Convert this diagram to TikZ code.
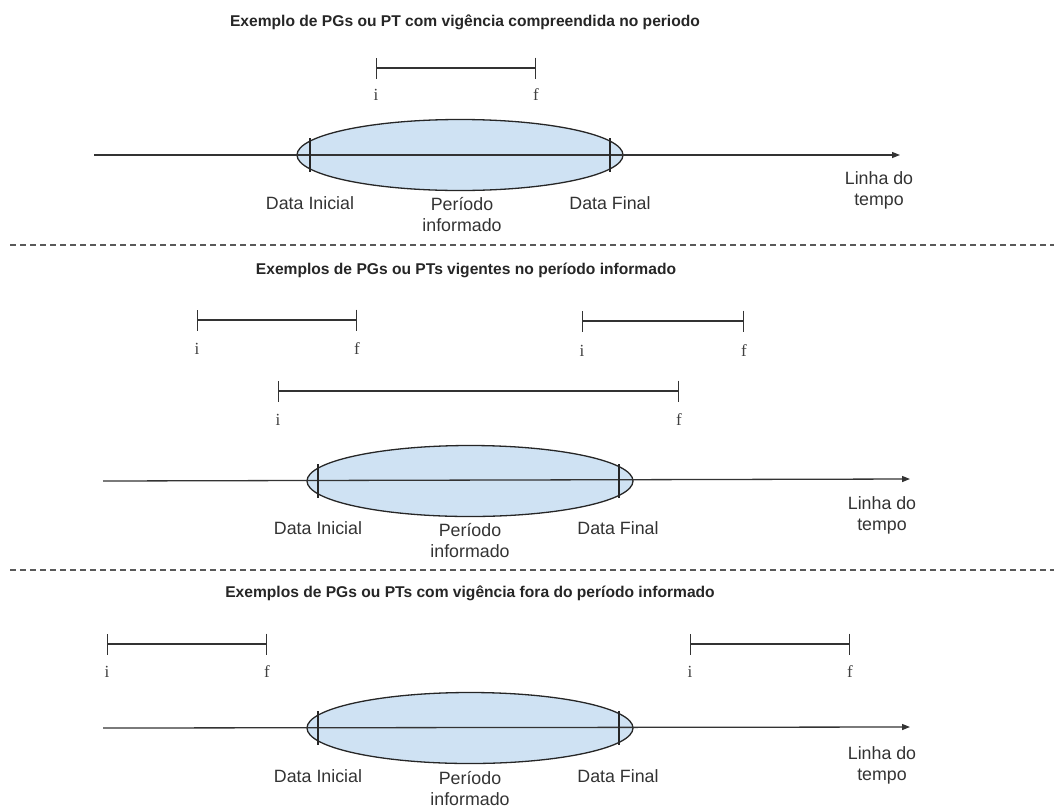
\documentclass[tikz,border=0pt]{standalone}
\usepackage{fontspec}
\setmainfont{Liberation Sans}
\newfontfamily\seriffont{Liberation Serif}
\usetikzlibrary{arrows.meta,shapes.geometric}
\definecolor{fillblue}{HTML}{CFE2F3}
\begin{document}
\begin{tikzpicture}[x=1pt,y=-1pt,
  titletext/.style={font=\bfseries\fontsize{15.6}{18}\selectfont, text=black!85, inner sep=0},
  lbl/.style={font=\fontsize{17.8}{21}\selectfont, align=center, text=black!80, inner sep=0},
  ifl/.style={font=\seriffont\fontsize{17}{18}\selectfont, text=black!75, inner sep=0},
  per/.style={ellipse, draw=black!85, fill=fillblue, line width=1.3pt, minimum width=326pt, minimum height=71pt, inner sep=0},
  tline/.style={line width=1.3pt, draw=black!80, -{Triangle[length=8pt,width=6pt]}},
  seg/.style={line width=1.3pt, draw=black!80, {Bar[width=21pt]}-{Bar[width=21pt]}},
  tickmark/.style={line width=1.3pt, draw=black!85},
  sep/.style={dash pattern=on 6pt off 4pt, line width=1.2pt, draw=black!65}]
\useasboundingbox (0,0) rectangle (1054,809);

% ---------- Section 1 ----------
\node[titletext] (t1) at (465,22) {Exemplo de PGs ou PT com vigência compreendida no periodo};
\coordinate (s1i) at (376,68); \coordinate (s1f) at (536,68);
\draw[seg] (s1i) -- (s1f);
\node[ifl] (s1il) at (376,95) {i};
\node[ifl] (s1fl) at (536,95) {f};
\node[per] (e1) at (460,155) {};
\coordinate (l1s) at (94,155); \coordinate (l1e) at (900,155);
\draw[tline] (l1s) -- (l1e);
\coordinate (d1a) at (310,155); \coordinate (d1b) at (610,155);
\draw[tickmark] ([yshift=17pt]d1a) -- ([yshift=-17pt]d1a);
\draw[tickmark] ([yshift=17pt]d1b) -- ([yshift=-17pt]d1b);
\node[lbl] (di1) at (310,203) {Data Inicial};
\node[lbl] (pi1) at (462,215) {Período\\informado};
\node[lbl] (df1) at (610,203) {Data Final};
\node[lbl] (lt1) at (879,190) {Linha do\\tempo};

\coordinate (sep1a) at (10,245); \coordinate (sep1b) at (1054,245);
\draw[sep] (sep1a) -- (sep1b);

% ---------- Section 2 ----------
\node[titletext] (t2) at (466,270) {Exemplos de PGs ou PTs vigentes no período informado};
\coordinate (s2ai) at (197,320); \coordinate (s2af) at (357,320);
\draw[seg] (s2ai) -- (s2af);
\node[ifl] (s2ail) at (197,349) {i};
\node[ifl] (s2afl) at (357,349) {f};
\coordinate (s2bi) at (582,321); \coordinate (s2bf) at (744,321);
\draw[seg] (s2bi) -- (s2bf);
\node[ifl] (s2bil) at (582,351) {i};
\node[ifl] (s2bfl) at (744,351) {f};
\coordinate (s2ci) at (278,391); \coordinate (s2cf) at (679,391);
\draw[seg] (s2ci) -- (s2cf);
\node[ifl] (s2cil) at (278,420) {i};
\node[ifl] (s2cfl) at (679,420) {f};
\node[per] (e2) at (470,481) {};
\coordinate (l2s) at (103,481); \coordinate (l2e) at (910,479);
\draw[tline] (l2s) -- (l2e);
\coordinate (d2a) at (318,481); \coordinate (d2b) at (619,481);
\draw[tickmark] ([yshift=17pt]d2a) -- ([yshift=-17pt]d2a);
\draw[tickmark] ([yshift=17pt]d2b) -- ([yshift=-17pt]d2b);
\node[lbl] (di2) at (318,528) {Data Inicial};
\node[lbl] (pi2) at (470,541) {Período\\informado};
\node[lbl] (df2) at (618,528) {Data Final};
\node[lbl] (lt2) at (882,515) {Linha do\\tempo};

\coordinate (sep2a) at (10,570); \coordinate (sep2b) at (1054,570);
\draw[sep] (sep2a) -- (sep2b);

% ---------- Section 3 ----------
\node[titletext] (t3) at (470,593) {Exemplos de PGs ou PTs com vigência fora do período informado};
\coordinate (s3ai) at (107,644); \coordinate (s3af) at (267,644);
\draw[seg] (s3ai) -- (s3af);
\node[ifl] (s3ail) at (107,672) {i};
\node[ifl] (s3afl) at (267,672) {f};
\coordinate (s3bi) at (690,644); \coordinate (s3bf) at (850,644);
\draw[seg] (s3bi) -- (s3bf);
\node[ifl] (s3bil) at (690,672) {i};
\node[ifl] (s3bfl) at (850,672) {f};
\node[per] (e3) at (470,728) {};
\coordinate (l3s) at (103,728); \coordinate (l3e) at (910,727);
\draw[tline] (l3s) -- (l3e);
\coordinate (d3a) at (318,728); \coordinate (d3b) at (619,728);
\draw[tickmark] ([yshift=17pt]d3a) -- ([yshift=-17pt]d3a);
\draw[tickmark] ([yshift=17pt]d3b) -- ([yshift=-17pt]d3b);
\node[lbl] (di3) at (318,776) {Data Inicial};
\node[lbl] (pi3) at (470,789) {Período\\informado};
\node[lbl] (df3) at (618,776) {Data Final};
\node[lbl] (lt3) at (882,765) {Linha do\\tempo};
\end{tikzpicture}
\end{document}
